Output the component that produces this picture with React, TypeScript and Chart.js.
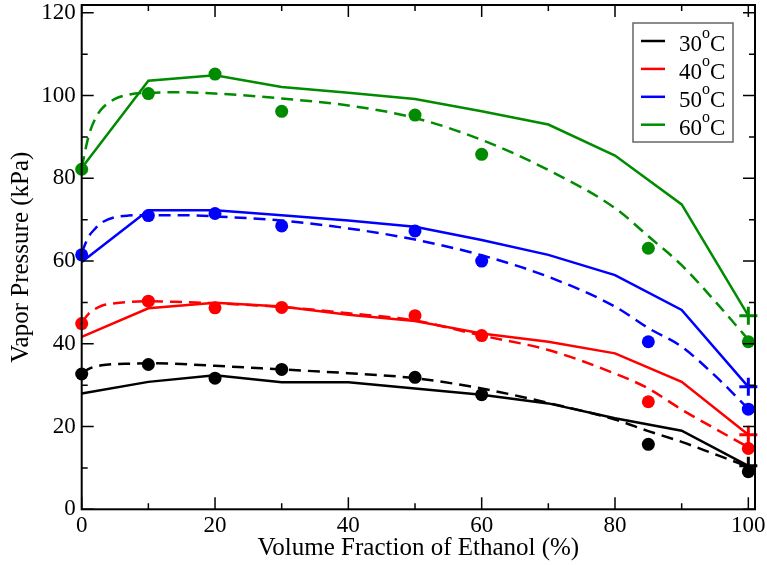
import React, { useEffect, useRef } from 'react';
import { Chart, registerables } from 'chart.js';

Chart.register(...registerables);

const FONT = '"Liberation Serif", "DejaVu Serif", serif';

// Series labels and colours
const temperatures = ['30', '40', '50', '60'];
const seriesColors = ['#000000', '#ff0000', '#0000ff', '#008b00'];

// Model (solid) curves
const solidX = [0, 10, 20, 30, 40, 50, 60, 70, 80, 90, 100];
const solid30 = [28.0, 30.8, 32.4, 30.7, 30.7, 29.2, 27.7, 25.6, 22.0, 19.0, 10.5];
const solid40 = [41.7, 48.6, 49.9, 49.0, 47.0, 45.5, 42.5, 40.5, 37.7, 30.8, 18.0];
const solid50 = [59.8, 72.3, 72.3, 71.1, 69.8, 68.3, 65.1, 61.5, 56.6, 48.2, 29.6];
const solid60 = [82.5, 103.6, 104.9, 102.1, 100.7, 99.2, 96.2, 93.0, 85.5, 73.7, 46.8];

// Fitted (dashed) curves
const dashedX = [0, 1, 2, 3, 5, 7, 10, 15, 20, 30, 40, 50, 60, 70, 80, 85, 90, 95, 100];
const dashed30 = [33.0, 33.9, 34.5, 34.8, 35.1, 35.2, 35.3, 35.1, 34.7, 33.8, 32.9, 31.7, 29.2, 25.7, 21.7, 18.9, 16.3, 13.3, 10.3];
const dashed40 = [45.2, 47.2, 48.4, 49.2, 49.8, 50.1, 50.3, 50.1, 49.8, 48.9, 47.4, 45.6, 42.0, 38.5, 32.8, 29.2, 24.1, 19.5, 15.0];
const dashed50 = [62.0, 65.8, 67.8, 69.3, 70.6, 71.0, 71.1, 71.1, 70.8, 69.8, 67.9, 65.2, 61.4, 56.2, 49.0, 43.8, 39.3, 32.3, 24.3];
const dashed60 = [82.5, 90.0, 94.3, 96.8, 99.2, 100.2, 100.7, 100.8, 100.5, 99.3, 97.6, 94.6, 89.3, 82.0, 72.8, 66.0, 59.0, 50.3, 41.0];

// Measured points (circles)
const markerX = [0, 10, 20, 30, 50, 60, 85, 100];
const marker30 = [32.7, 35.0, 31.7, 33.8, 31.9, 27.7, 15.7, 9.1];
const marker40 = [44.9, 50.3, 48.7, 48.8, 46.8, 42.0, 26.0, 14.7];
const marker50 = [61.5, 71.0, 71.5, 68.5, 67.3, 60.0, 40.5, 24.2];
const marker60 = [82.2, 100.5, 105.2, 96.2, 95.3, 85.8, 63.1, 40.5];

// Pure-ethanol points (plus signs)
const plusX = [100];
const plus30 = [10.5];
const plus40 = [18.0];
const plus50 = [29.6];
const plus60 = [46.8];

// Axes
const xTickValues = [0, 20, 40, 60, 80, 100];
const xMinorValues = [10, 30, 50, 70, 90];
const yTickValues = [0, 20, 40, 60, 80, 100, 120];
const yMinorValues = [10, 30, 50, 70, 90, 110];
const xTitle = 'Volume Fraction of Ethanol (%)';
const yTitle = 'Vapor Pressure (kPa)';

const solidSeries = [solid30, solid40, solid50, solid60];
const dashedSeries = [dashed30, dashed40, dashed50, dashed60];
const markerSeries = [marker30, marker40, marker50, marker60];
const plusSeries = [plus30, plus40, plus50, plus60];

const pts = (xs: number[], ys: number[]) => xs.map((x, i) => ({ x, y: ys[i] }));

const framePlugin = {
  id: 'frameTicks',
  afterDraw(chart: any) {
    const { ctx, chartArea: a, scales } = chart;
    const xs = scales.x;
    const ys = scales.y;
    ctx.save();
    ctx.strokeStyle = '#000';
    ctx.lineWidth = 1.5;
    const major = 12;
    const minor = 6;
    const drawX = (v: number, len: number) => {
      const px = xs.getPixelForValue(v);
      ctx.beginPath();
      ctx.moveTo(px, a.bottom);
      ctx.lineTo(px, a.bottom - len);
      ctx.moveTo(px, a.top);
      ctx.lineTo(px, a.top + len);
      ctx.stroke();
    };
    const drawY = (v: number, len: number) => {
      const py = ys.getPixelForValue(v);
      ctx.beginPath();
      ctx.moveTo(a.left, py);
      ctx.lineTo(a.left + len, py);
      ctx.moveTo(a.right, py);
      ctx.lineTo(a.right - len, py);
      ctx.stroke();
    };
    xTickValues.forEach((v) => drawX(v, major));
    xMinorValues.forEach((v) => drawX(v, minor));
    yTickValues.forEach((v) => drawY(v, major));
    yMinorValues.forEach((v) => drawY(v, minor));
    ctx.lineWidth = 2;
    ctx.strokeRect(a.left, a.top, a.right - a.left, a.bottom - a.top);

    // legend
    const bx = a.right - 122;
    const by = a.top + 18;
    const bw = 100;
    const bh = 119;
    ctx.fillStyle = '#fff';
    ctx.fillRect(bx, by, bw, bh);
    ctx.strokeStyle = '#666';
    ctx.lineWidth = 1.5;
    ctx.strokeRect(bx, by, bw, bh);
    temperatures.forEach((t, i) => {
      const cy = by + 18 + i * 27.9;
      ctx.strokeStyle = seriesColors[i];
      ctx.lineWidth = 2.5;
      ctx.beginPath();
      ctx.moveTo(bx + 8, cy);
      ctx.lineTo(bx + 32, cy);
      ctx.stroke();
      ctx.fillStyle = '#000';
      ctx.textBaseline = 'alphabetic';
      ctx.textAlign = 'left';
      ctx.font = `23px ${FONT}`;
      let tx = bx + 46;
      const base = cy + 10;
      ctx.fillText(t, tx, base);
      tx += ctx.measureText(t).width;
      ctx.font = `16px ${FONT}`;
      ctx.fillText('o', tx, base - 13);
      tx += ctx.measureText('o').width;
      ctx.font = `23px ${FONT}`;
      ctx.fillText('C', tx, base);
    });
    ctx.restore();
  },
};

export default function App() {
  const ref = useRef<HTMLCanvasElement | null>(null);

  useEffect(() => {
    document.body.style.margin = '0';
    const datasets: any[] = [];
    temperatures.forEach((t, i) => {
      const c = seriesColors[i];
      datasets.push({
        label: `${t} model`,
        data: pts(solidX, solidSeries[i]),
        borderColor: c,
        borderWidth: 2.5,
        pointRadius: 0,
        fill: false,
        tension: 0,
        clip: false,
      });
      datasets.push({
        label: `${t} fit`,
        data: pts(dashedX, dashedSeries[i]),
        borderColor: c,
        borderWidth: 2.5,
        borderDash: [12, 7],
        pointRadius: 0,
        fill: false,
        cubicInterpolationMode: 'monotone',
        clip: false,
      });
      datasets.push({
        label: `${t} data`,
        data: pts(markerX, markerSeries[i]),
        showLine: false,
        pointStyle: 'circle',
        pointRadius: 6.5,
        pointBackgroundColor: c,
        pointBorderColor: c,
        pointBorderWidth: 0,
        clip: false,
      });
      datasets.push({
        label: `${t} ethanol`,
        data: pts(plusX, plusSeries[i]),
        showLine: false,
        pointStyle: 'cross',
        pointRadius: 9,
        pointBorderColor: c,
        pointBorderWidth: 3,
        clip: false,
      });
    });

    const chart = new Chart(ref.current as HTMLCanvasElement, {
      type: 'line',
      data: { datasets },
      options: {
        animation: false,
        responsive: false,
        maintainAspectRatio: false,
        layout: { autoPadding: false, padding: { top: 5, right: 12, left: 0, bottom: 0 } },
        plugins: { legend: { display: false }, tooltip: { enabled: false } },
        scales: {
          x: {
            type: 'linear',
            min: 0,
            max: 101,
            afterBuildTicks: (s: any) => {
              s.ticks = xTickValues.map((v) => ({ value: v }));
            },
            afterFit: (s: any) => {
              s.height = 55.7;
              s.paddingLeft = 0;
              s.paddingRight = 0;
            },
            grid: { display: false, drawTicks: false },
            border: { display: false },
            ticks: {
              padding: 3,
              color: '#000',
              font: { family: FONT, size: 23 },
              maxRotation: 0,
              autoSkip: false,
            },
            title: {
              display: true,
              text: xTitle,
              color: '#000',
              font: { family: FONT, size: 25 },
              padding: { top: 0, bottom: 2 },
            },
          },
          y: {
            type: 'linear',
            min: 0,
            max: 121.9,
            afterBuildTicks: (s: any) => {
              s.ticks = yTickValues.map((v) => ({ value: v }));
            },
            afterFit: (s: any) => {
              s.width = 81.7;
              s.paddingTop = 0;
              s.paddingBottom = 0;
            },
            grid: { display: false, drawTicks: false },
            border: { display: false },
            ticks: {
              padding: 6,
              color: '#000',
              font: { family: FONT, size: 23 },
              autoSkip: false,
            },
            title: {
              display: true,
              text: yTitle,
              color: '#000',
              font: { family: FONT, size: 25 },
              padding: { top: 6, bottom: 0 },
            },
          },
        },
      },
      plugins: [framePlugin],
    } as any);
    return () => chart.destroy();
  }, []);

  return (
    <div style={{ width: 767, height: 565 }}>
      <canvas ref={ref} width={767} height={565} style={{ display: 'block', width: 767, height: 565 }} />
    </div>
  );
}
